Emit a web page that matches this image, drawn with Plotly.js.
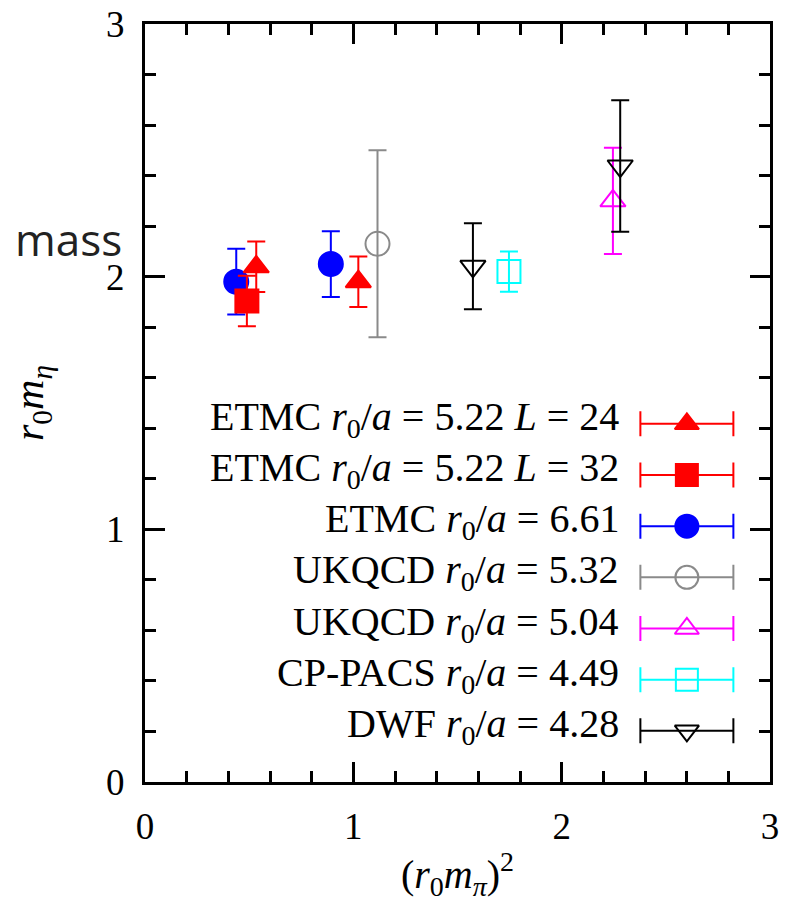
<!DOCTYPE html>
<html>
<head>
<meta charset="utf-8">
<script src="https://cdn.plot.ly/plotly-3.0.1.min.js"></script>
<style>html,body{margin:0;padding:0;background:#fff;}#chart{width:785px;height:913px;}</style>
</head>
<body>
<div id="chart"></div>
<script>
// ---- data ----
const seriesNames = [
  'ETMC <i>r</i><sub>0</sub>/<i>a</i> = 5.22 <i>L</i> = 24',
  'ETMC <i>r</i><sub>0</sub>/<i>a</i> = 5.22 <i>L</i> = 32',
  'ETMC <i>r</i><sub>0</sub>/<i>a</i> = 6.61',
  'UKQCD <i>r</i><sub>0</sub>/<i>a</i> = 5.32',
  'UKQCD <i>r</i><sub>0</sub>/<i>a</i> = 5.04',
  'CP-PACS <i>r</i><sub>0</sub>/<i>a</i> = 4.49',
  'DWF <i>r</i><sub>0</sub>/<i>a</i> = 4.28'
];
const etmc24X = [0.534, 1.024];
const etmc24Y = [2.039, 1.980];
const etmc24E = [0.10, 0.10];
const etmc32X = [0.489];
const etmc32Y = [1.904];
const etmc32E = [0.10];
const etmc661X = [0.438, 0.892];
const etmc661Y = [1.980, 2.050];
const etmc661E = [0.13, 0.13];
const ukqcd532X = [1.116];
const ukqcd532Y = [2.130];
const ukqcd532E = [0.37];
const ukqcd504X = [2.246];
const ukqcd504Y = [2.300];
const ukqcd504E = [0.21];
const cppacsX = [1.747];
const cppacsY = [2.020];
const cppacsE = [0.08];
const dwfX = [1.574, 2.281];
const dwfY = [2.041, 2.438];
const dwfE = [0.17, 0.26];
const xTickVals = [0, 1, 2, 3];
const yTickVals = [0, 1, 2, 3];

// ---- styles ----
const serif = 'Liberation Serif, DejaVu Serif, serif';
const styles = [
  {color: '#ff0000', symbol: 'triangle-up', size: 22},
  {color: '#ff0000', symbol: 'square', size: 23},
  {color: '#0000ff', symbol: 'circle', size: 24},
  {color: '#8a8a8a', symbol: 'circle-open', size: 24},
  {color: '#ff00ff', symbol: 'triangle-up-open', size: 22},
  {color: '#00ffff', symbol: 'square-open', size: 23},
  {color: '#000000', symbol: 'triangle-down-open', size: 22}
];
const seriesData = [
  [etmc24X, etmc24Y, etmc24E],
  [etmc32X, etmc32Y, etmc32E],
  [etmc661X, etmc661Y, etmc661E],
  [ukqcd532X, ukqcd532Y, ukqcd532E],
  [ukqcd504X, ukqcd504Y, ukqcd504E],
  [cppacsX, cppacsY, cppacsE],
  [dwfX, dwfY, dwfE]
];
const drawOrder = [2, 0, 1, 3, 5, 4, 6];

const traces = [];
drawOrder.forEach(i => {
  const s = styles[i], d = seriesData[i];
  traces.push({
    type: 'scatter', mode: 'markers', x: d[0], y: d[1],
    error_y: {type: 'data', array: d[2], visible: true, color: s.color, thickness: 2, width: 9},
    marker: {symbol: s.symbol, size: s.size, color: s.color, line: {color: s.color, width: 2}},
    showlegend: false, hoverinfo: 'skip'
  });
});

// custom legend (symbol to the right of the text), on an overlay axis
const legTop = 0.4725, legStep = 0.0675, legX = 0.867, legHalf = 0.0744, legTextX = 0.762;
const annotations = [];
seriesNames.forEach((name, i) => {
  const s = styles[i];
  const yy = legTop - i * legStep;
  traces.push({
    type: 'scatter', mode: 'markers', x: [legX], y: [yy], xaxis: 'x2', yaxis: 'y2',
    error_x: {type: 'data', array: [legHalf], visible: true, color: s.color, thickness: 2, width: 12.5},
    marker: {symbol: s.symbol, size: s.size - 1, color: s.color, line: {color: s.color, width: 2}},
    showlegend: false, hoverinfo: 'skip'
  });
  annotations.push({
    xref: 'paper', yref: 'paper', x: legTextX, y: yy, xanchor: 'right', yanchor: 'middle',
    yshift: 5, text: name, showarrow: false,
    font: {family: serif, size: 40, color: '#000'}
  });
});
annotations.push({
  xref: 'paper', yref: 'paper', x: -0.212, y: 0.717, xanchor: 'left', yanchor: 'middle',
  text: 'mass', showarrow: false,
  font: {family: 'Open Sans, sans-serif', size: 44, color: '#222'}
});

const axisCommon = {
  showline: true, linewidth: 3, linecolor: '#000', mirror: 'allticks',
  ticks: 'inside', ticklen: 20, tickwidth: 3, tickcolor: '#000',
  showgrid: false, zeroline: false,
  tickfont: {family: serif, size: 37, color: '#000'},
  minor: {dtick: 0.2, ticks: 'inside', ticklen: 11, tickwidth: 3, tickcolor: '#000', showgrid: false}
};

const layout = {
  width: 785, height: 913,
  margin: {l: 145, r: 15, t: 24, b: 131},
  paper_bgcolor: '#fff', plot_bgcolor: '#fff',
  showlegend: false,
  xaxis: Object.assign({}, axisCommon, {
    range: [0, 3], tickvals: xTickVals, ticktext: xTickVals.map(String),
    ticklabelstandoff: 10,
    title: {text: '(<i>r</i><sub>0</sub><i>m</i><sub><i>π</i></sub>)<sup>2</sup>', standoff: 14,
      font: {family: serif, size: 40, color: '#000'}}
  }),
  yaxis: Object.assign({}, axisCommon, {
    range: [0, 3], tickvals: yTickVals, ticktext: yTickVals.map(String),
    ticklabelstandoff: 10,
    title: {text: '<i>r</i><sub>0</sub><i>m</i><sub><i>η</i></sub>', standoff: 50,
      font: {family: serif, size: 42, color: '#000'}}
  }),
  xaxis2: {overlaying: 'x', range: [0, 1], visible: false, fixedrange: true},
  yaxis2: {overlaying: 'y', range: [0, 1], visible: false, fixedrange: true},
  annotations: annotations
};

Plotly.newPlot('chart', traces, layout, {staticPlot: true});
</script>
</body>
</html>
